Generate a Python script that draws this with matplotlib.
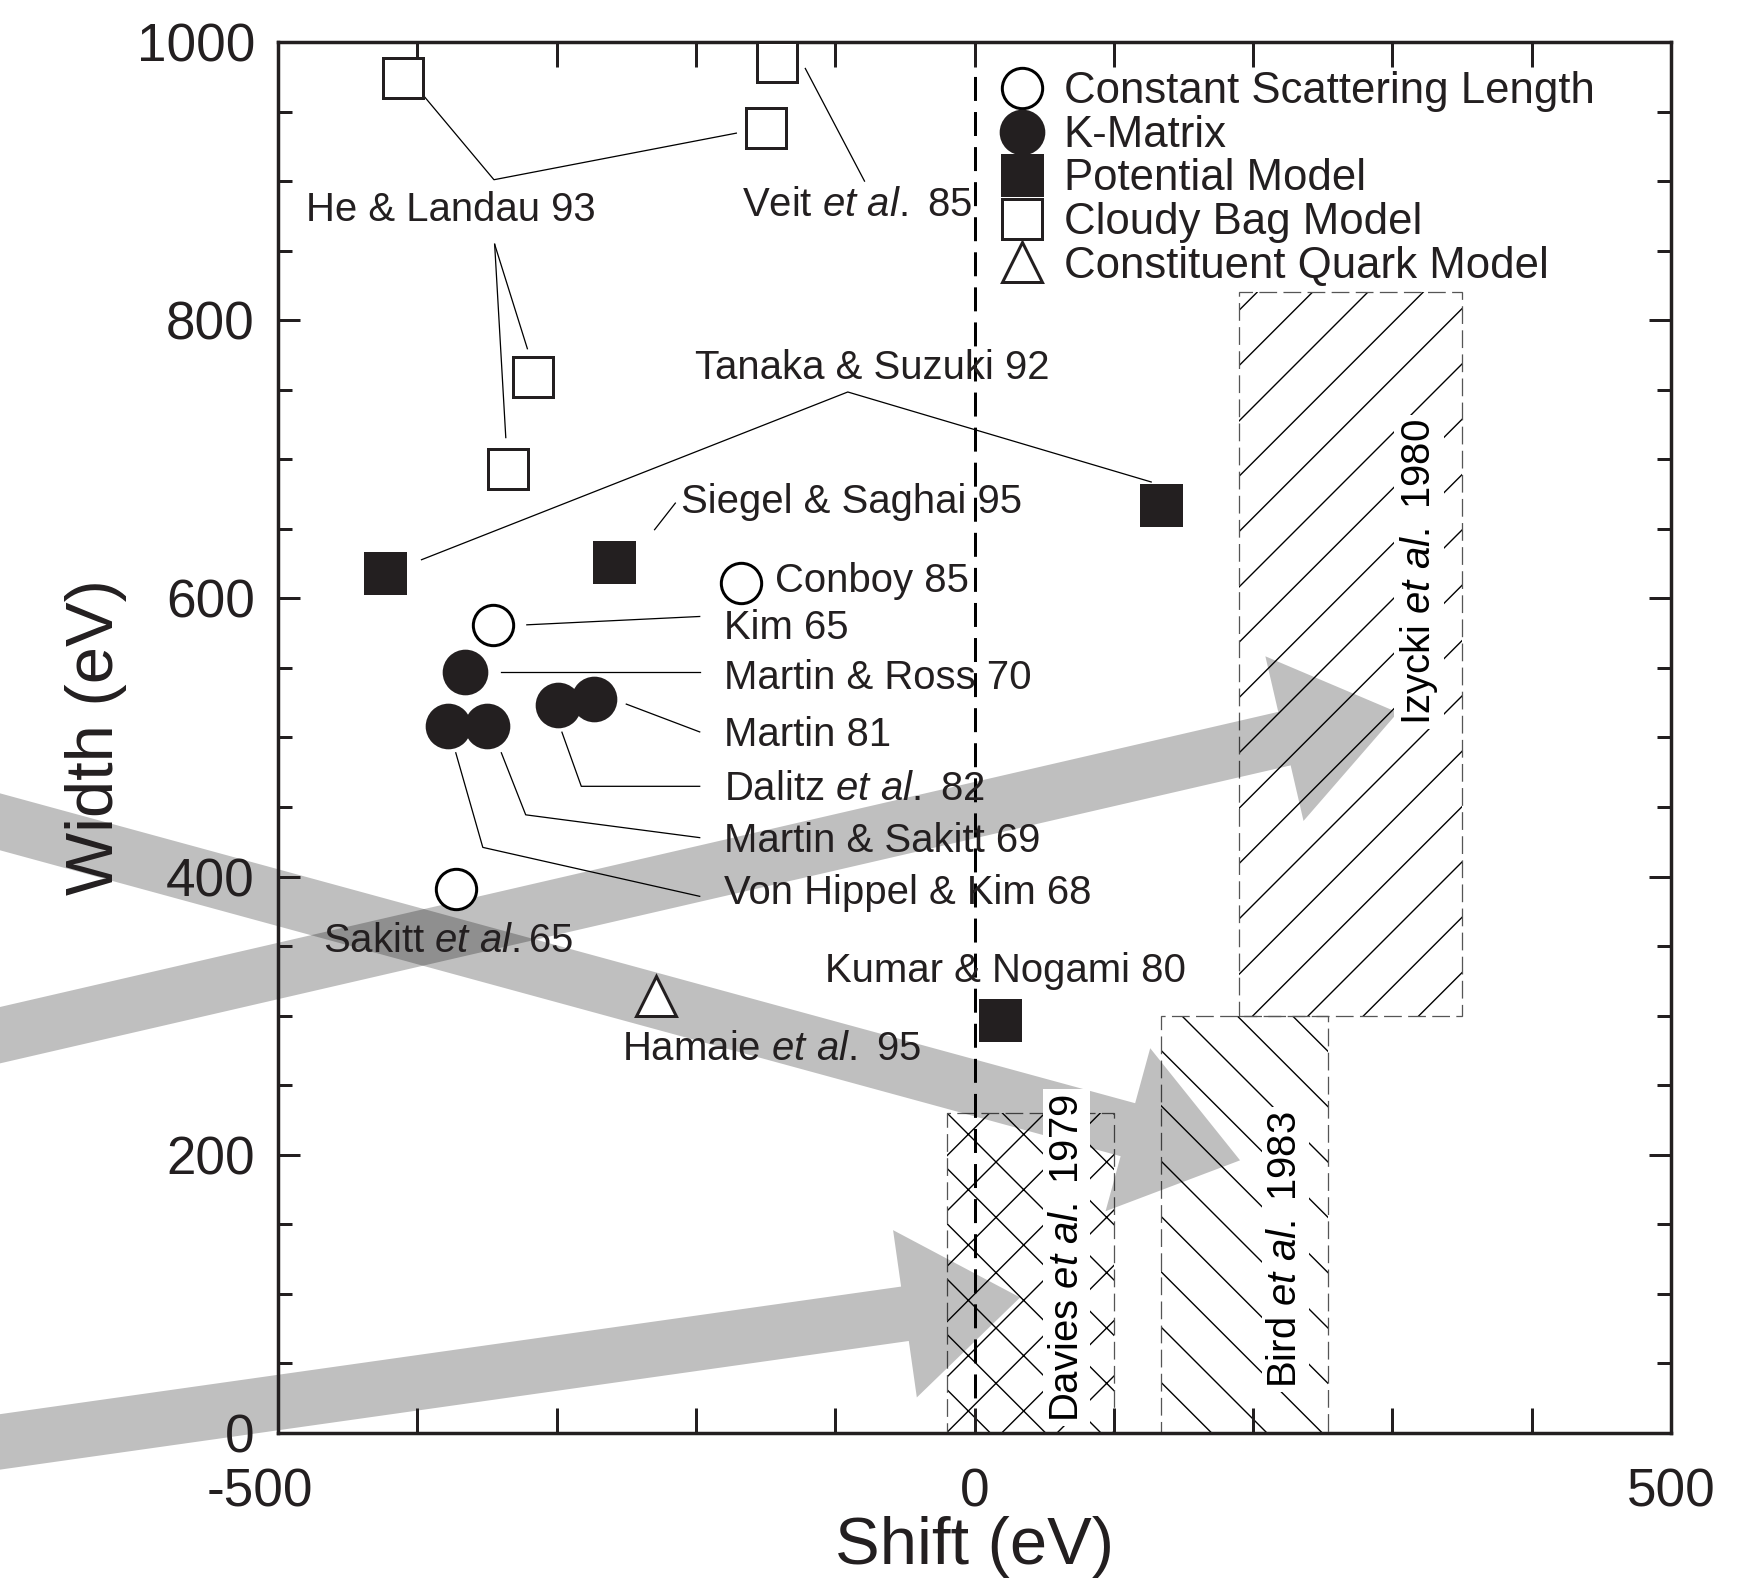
import matplotlib
matplotlib.use("Agg")
import matplotlib.pyplot as plt
from matplotlib.patches import Rectangle, FancyArrow
from matplotlib.lines import Line2D
from matplotlib.transforms import offset_copy

plt.rcParams['font.family'] = 'Liberation Sans'
plt.rcParams['mathtext.fontset'] = 'custom'
plt.rcParams['mathtext.rm'] = 'Liberation Sans'
plt.rcParams['mathtext.it'] = 'Liberation Sans:italic'
plt.rcParams['axes.unicode_minus'] = False
plt.rcParams['hatch.linewidth'] = 0.6

DPI = 166

# ---------------------------------------------------------------------
# Calculated shift / width of the kaonic hydrogen 1s level, by model
# ---------------------------------------------------------------------
csl_shift = [-168, -346, -372]          # constant scattering length
csl_width = [611, 581, 391]
kmat_shift = [-366, -378, -350, -299, -273]   # K-matrix
kmat_width = [547, 508, 508, 523, 528]
pot_shift = [-423, -259, 134, 18]       # potential model
pot_width = [618, 626, 667, 297]
cbm_shift = [-410, -142, -150, -317, -335]    # cloudy bag model
cbm_width = [974, 986, 938, 759, 693]
cqm_shift = [-229]                      # constituent quark model
cqm_width = [314]

# Measured regions (shift range, width range)
exp_names = ["Davies $\\mathit{et\\ al.}$ 1979", "Bird $\\mathit{et\\ al.}$ 1983",
             "Izycki $\\mathit{et\\ al.}$ 1980"]
exp_shift_lo = [-20, 134, 190]
exp_shift_hi = [100, 254, 350]
exp_width_lo = [0, 0, 300]
exp_width_hi = [230, 300, 820]
exp_hatch = ['x', '\\', '/']
exp_text_pos = [(66, 126), (223, 132), (319, 619)]

# Reference labels and their leader lines
ref_labels = [
    ("He & Landau 93", -480, 879),
    ("Veit $\\mathit{et\\ al.}$ 85", -166.7, 883),
    ("Tanaka & Suzuki 92", -201, 766),
    ("Siegel & Saghai 95", -211, 669),
    ("Conboy 85", -143.5, 612.6),
    ("Kim 65", -180.2, 579),
    ("Martin & Ross 70", -180.2, 543),
    ("Martin 81", -180.2, 501.6),
    ("Dalitz $\\mathit{et\\ al.}$ 82", -180.2, 463),
    ("Martin & Sakitt 69", -180.2, 425.7),
    ("Von Hippel & Kim 68", -180.2, 388),
    ("Sakitt $\\mathit{et\\ al.}$65", -468, 353.8),
    ("Hamaie $\\mathit{et\\ al.}$ 95", -252.8, 276.4),
    ("Kumar & Nogami 80", -107.7, 332.3),
]
leaders = [
    ([-396, -345, -171], [962, 901, 934.5]),
    ([-344.5, -321], [854.6, 779.5]),
    ([-344.5, -336.5], [854.6, 715.6]),
    ([-121.5, -79], [981, 900]),
    ([-397, -91, 126.8], [627.8, 748.4, 683.7]),
    ([-229.7, -214.8], [649.4, 668.5]),
    ([-321.4, -197.3], [581, 587]),
    ([-339.7, -197.3], [547, 547]),
    ([-250, -197.3], [524, 504]),
    ([-296.2, -282.3, -197.3], [503.8, 464.9, 464.9]),
    ([-339.7, -322.2, -197.3], [489, 444.4, 428]),
    ([-372.4, -353, -197.3], [489, 421, 385.8]),
]

# Broad trend arrows: tail and tip (shift, width)
arrow_tail = [(-760, -15.0), (-760, 455.9), (-760, 272.0)]
arrow_tip = [(32.7, 97.4), (190.6, 196.0), (303.8, 518.0)]

TICK_FS = 23
LABEL_FS = 29
NOTE_FS = 17.4
LEG_FS = 19
MS = 17.5
MEW = 1.3

fig = plt.figure(figsize=(1742 / DPI, 1586 / DPI), dpi=DPI)
ax = fig.add_axes([0.1596, 0.0965, 0.7997, 0.877])
ax.set_xlim(-500, 500)
ax.set_ylim(0, 1000)
ax.set_axisbelow(False)

# hatched experimental regions
for x0, x1, y0, y1, h in zip(exp_shift_lo, exp_shift_hi, exp_width_lo, exp_width_hi, exp_hatch):
    ax.add_patch(Rectangle((x0, y0), x1 - x0, y1 - y0, facecolor='white',
                           edgecolor='black', linewidth=0, hatch=h, zorder=1))
    ax.add_patch(Rectangle((x0, y0), x1 - x0, y1 - y0, facecolor='none',
                           edgecolor='#555555', linewidth=0.55,
                           linestyle=(0, (14, 5)), zorder=1.2))

for name, (tx, ty) in zip(exp_names, exp_text_pos):
    ax.text(tx, ty, name, rotation=90, ha='center', va='center', fontsize=NOTE_FS,
            zorder=5, bbox=dict(facecolor='white', edgecolor='none', pad=2))

# zero-shift reference line
zl = ax.axvline(0, color='black', linewidth=1.3, zorder=2.2)
zl.set_dashes([8, 3.7])

# grey trend arrows (extend past the frame)
for (x0, y0), (x1, y1) in zip(arrow_tail, arrow_tip):
    ax.add_patch(FancyArrow(x0, y0, x1 - x0, y1 - y0, width=39.5, head_width=121.5,
                            head_length=83.5, length_includes_head=True,
                            facecolor='black', edgecolor='none', alpha=0.25,
                            clip_on=False, zorder=2))

# leader lines
for xs, ys in leaders:
    ax.plot(xs, ys, color='black', linewidth=0.55, zorder=3)

# model points
ax.plot(csl_shift, csl_width, 'o', ms=MS, mfc='white', mec='black', mew=MEW, zorder=4, clip_on=False)
ax.plot(kmat_shift, kmat_width, 'o', ms=MS + 1, mfc='#231f20', mec='#231f20', mew=MEW, zorder=4, clip_on=False)
ax.plot(pot_shift, pot_width, 's', ms=MS, mfc='#231f20', mec='#231f20', mew=MEW, zorder=4, clip_on=False)
ax.plot(cbm_shift, cbm_width, 's', ms=MS, mfc='white', mec='#231f20', mew=MEW, zorder=4, clip_on=False)
ax.plot(cqm_shift, cqm_width, '^', ms=MS, mfc='white', mec='#231f20', mew=MEW, zorder=4, clip_on=False)

for txt, tx, ty in ref_labels:
    ax.text(tx, ty, txt, ha='left', va='center', fontsize=NOTE_FS, color='#231f20', zorder=5)

# legend
handles = [
    Line2D([], [], ls='none', marker='o', ms=MS, mfc='white', mec='black', mew=MEW),
    Line2D([], [], ls='none', marker='o', ms=MS + 1, mfc='#231f20', mec='#231f20', mew=MEW),
    Line2D([], [], ls='none', marker='s', ms=MS, mfc='#231f20', mec='#231f20', mew=MEW),
    Line2D([], [], ls='none', marker='s', ms=MS, mfc='white', mec='#231f20', mew=MEW),
    Line2D([], [], ls='none', marker='^', ms=MS, mfc='white', mec='#231f20', mew=MEW),
]
labels = ["Constant Scattering Length", "K-Matrix", "Potential Model",
          "Cloudy Bag Model", "Constituent Quark Model"]
leg = ax.legend(handles, labels, loc='upper left', bbox_to_anchor=(0.518, 0.979),
                frameon=False, fontsize=LEG_FS, handlelength=1.0, handletextpad=0.46,
                labelspacing=0.06, borderpad=0, borderaxespad=0, numpoints=1)
for t in leg.get_texts():
    t.set_color('#231f20')

# axes styling
ax.set_xticks([-500, 0, 500])
ax.set_xticks(range(-400, 500, 100), minor=True)
ax.set_yticks(range(0, 1001, 200))
ax.set_yticks(range(0, 1001, 50), minor=True)
ax.tick_params(axis='both', which='both', direction='in', top=True, right=True,
               width=1.3, color='#231f20', labelcolor='#231f20', labelsize=TICK_FS)
ax.tick_params(axis='x', which='both', length=10.8, pad=15)
ax.tick_params(axis='y', which='major', length=9.5, pad=10)
ax.tick_params(axis='y', which='minor', length=6)
for s in ax.spines.values():
    s.set_linewidth(1.5)
    s.set_color('#231f20')

lbl = ax.xaxis.get_major_ticks()[0].label1
lbl.set_transform(offset_copy(lbl.get_transform(), fig=fig, x=-18, y=0, units='dots'))

ax.set_xlabel("Shift (eV)", fontsize=LABEL_FS, color='#231f20')
ax.set_ylabel("Width (eV)", fontsize=LABEL_FS, color='#231f20')
ax.xaxis.set_label_coords(0.5, -0.06)
ax.yaxis.set_label_coords(-0.1085, 0.5)

fig.savefig("out.png", dpi=DPI)
